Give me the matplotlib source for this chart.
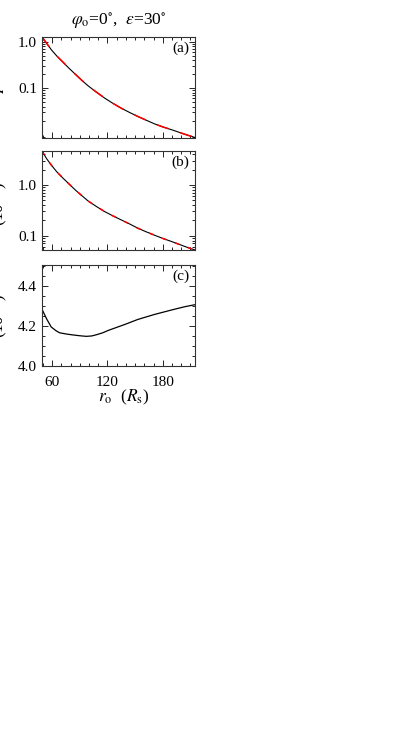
import numpy as np
import matplotlib
matplotlib.use("Agg")
import matplotlib.pyplot as plt
from matplotlib.ticker import LogLocator, MultipleLocator, NullFormatter

plt.rcParams['font.family'] = ['Liberation Serif', 'DejaVu Serif']
plt.rcParams['mathtext.fontset'] = 'stix'

# valores
r_o = [49, 54, 59, 65, 72, 78, 85, 92, 99, 108, 117, 126, 135, 144, 153,
       162, 171, 180, 190, 204, 215]
panel_a = [1.25, 0.92, 0.67, 0.49, 0.357, 0.27, 0.20, 0.148, 0.112, 0.082,
           0.061, 0.047, 0.037, 0.030, 0.0246, 0.0205, 0.0171, 0.0147,
           0.0127, 0.0102, 0.0087]
panel_b = [4.68, 3.3, 2.48, 1.82, 1.35, 1.06, 0.80, 0.62, 0.483, 0.376,
           0.298, 0.245, 0.204, 0.17, 0.14, 0.119, 0.102, 0.088, 0.076,
           0.061, 0.052]
# ajuste (linea roja), coincide con la curva negra
panel_a_fit = panel_a
panel_b_fit = panel_b

r_c = [49, 54, 59, 64, 68, 75, 81, 90, 97, 103, 108, 115, 121, 130, 139,
       153, 171, 190, 204, 215]
panel_c = [4.285, 4.237, 4.196, 4.178, 4.167, 4.161, 4.157, 4.152, 4.149,
           4.151, 4.157, 4.167, 4.179, 4.194, 4.209, 4.234, 4.259, 4.282,
           4.298, 4.308]

W, H = 415, 748
fig = plt.figure(figsize=(W / 100, H / 100), dpi=100)


def box(top, bottom, left=42, right=195):
    return [left / W, 1 - bottom / H, (right - left) / W, (bottom - top) / H]


ax_a = fig.add_axes(box(37, 137.5))
ax_b = fig.add_axes(box(151, 250))
ax_c = fig.add_axes(box(265.5, 366))

ax_a.plot(r_o, panel_a, color='black', lw=0.8)
ax_a.plot(r_o, panel_a_fit, color='red', lw=1.1, ls=(0, (8, 8)))
ax_b.plot(r_o, panel_b, color='black', lw=0.8)
ax_b.plot(r_o, panel_b_fit, color='red', lw=1.1, ls=(0, (3, 6)))
ax_c.plot(r_c, panel_c, color='black', lw=0.9)

ax_a.set_yscale('log')
ax_a.set_ylim(0.0087, 1.25)
ax_b.set_yscale('log')
ax_b.set_ylim(0.052, 4.68)
ax_c.set_ylim(4.0, 4.505)

for ax in (ax_a, ax_b):
    ax.set_yticks([0.1, 1.0])
    ax.set_yticklabels(['0.1', '1.0'])
    ax.yaxis.set_minor_locator(LogLocator(base=10, subs=np.arange(2, 10), numticks=20))
    ax.yaxis.set_minor_formatter(NullFormatter())

ax_c.set_yticks([4.0, 4.2, 4.4])
ax_c.set_yticklabels(['4.0', '4.2', '4.4'])
ax_c.yaxis.set_minor_locator(MultipleLocator(0.05))

for ax, lab in zip((ax_a, ax_b, ax_c), ('(a)', '(b)', '(c)')):
    ax.set_xlim(49, 215)
    ax.set_xticks([60, 120, 180])
    ax.xaxis.set_minor_locator(MultipleLocator(10))
    ax.tick_params(which='both', direction='in', top=True, right=True,
                   labelsize=11, width=0.6)
    ax.tick_params(which='major', length=4.5)
    ax.tick_params(which='minor', length=2.5)
    ax.tick_params(axis='y', pad=3.5)
    ax.tick_params(axis='x', pad=7)
    for s in ax.spines.values():
        s.set_linewidth(0.8)
        s.set_color('#333333')
    ax.text(0.905, 0.89, lab, transform=ax.transAxes, ha='center',
            va='center', fontsize=11)
    if ax is not ax_c:
        ax.set_xticklabels([])

fig.text(119 / W, 1 - 21 / H, r'$\varphi_{\rm o}$=0$^{\circ}$,  $\epsilon$=30$^{\circ}$',
         ha='center', va='center', fontsize=12.5)
fig.text(124 / W, 1 - 397 / H, r'$r_{\rm o}$  ($R_{\rm s}$)', ha='center',
         va='center', fontsize=12.5)

# etiquetas del eje y (cortadas en el borde izquierdo, como en el original)
fig.text(8 / W, 1 - 88 / H, r'$P$', rotation=90, ha='right', va='center',
         fontsize=12)
fig.text(10 / W, 1 - 204 / H, r'(10$^{-2}$)', rotation=90, ha='right',
         va='center', fontsize=12)
fig.text(10 / W, 1 - 316 / H, r'(10$^{-2}$)', rotation=90, ha='right',
         va='center', fontsize=12)

fig.savefig('out.png', dpi=100)
